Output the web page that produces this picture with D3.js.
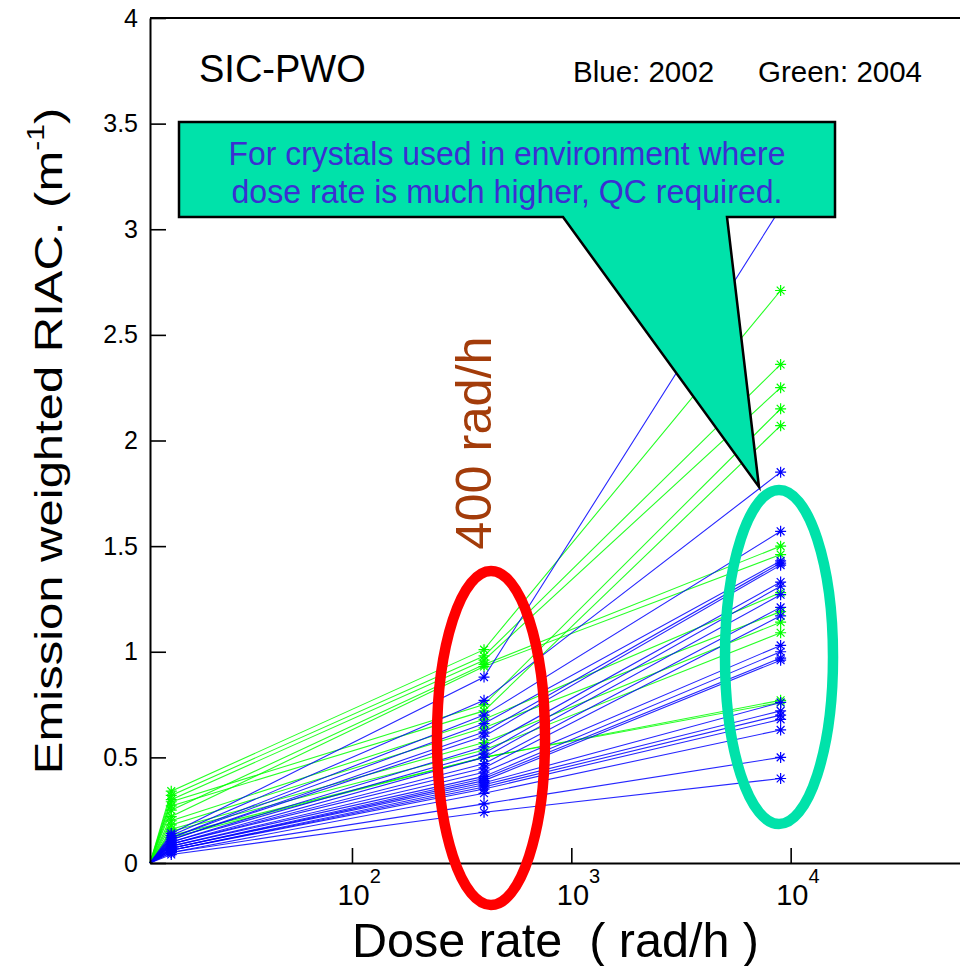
<!DOCTYPE html>
<html>
<head>
<meta charset="utf-8">
<script src="https://cdn.jsdelivr.net/npm/d3@7"></script>
<style>
  html, body { margin: 0; padding: 0; background: #fff; }
  svg { display: block; font-family: "Liberation Sans", Arial, Helvetica, sans-serif; }
</style>
</head>
<body>
<svg id="chart" width="960" height="966"></svg>
<script>
// Dose rates (rad/h) at which each crystal was measured; every curve starts at zero RIAC
const doseRates = [12, 15, 400, 9000];

// Emission weighted RIAC (1/m) per crystal, one row per crystal, matching doseRates
const riac2002 = [
  [0, 0.14, 0.88, 3.10],
  [0, 0.13, 0.77, 1.85],
  [0, 0.12, 0.70, 1.57],
  [0, 0.12, 0.66, 1.43],
  [0, 0.11, 0.62, 1.42],
  [0, 0.11, 0.60, 1.41],
  [0, 0.10, 0.55, 1.33],
  [0, 0.10, 0.52, 1.31],
  [0, 0.09, 0.50, 1.27],
  [0, 0.09, 0.47, 1.21],
  [0, 0.09, 0.45, 1.17],
  [0, 0.08, 0.43, 1.03],
  [0, 0.08, 0.41, 1.00],
  [0, 0.07, 0.40, 0.97],
  [0, 0.07, 0.39, 0.96],
  [0, 0.07, 0.38, 0.76],
  [0, 0.06, 0.37, 0.72],
  [0, 0.06, 0.36, 0.70],
  [0, 0.06, 0.35, 0.68],
  [0, 0.05, 0.33, 0.63],
  [0, 0.05, 0.28, 0.50],
  [0, 0.04, 0.24, 0.40]
];

const riac2004 = [
  [0, 0.34, 1.01, 2.71],
  [0, 0.32, 0.98, 2.36],
  [0, 0.30, 0.96, 2.25],
  [0, 0.29, 0.75, 2.15],
  [0, 0.27, 0.72, 2.07],
  [0, 0.25, 0.94, 1.50],
  [0, 0.22, 0.93, 1.46],
  [0, 0.20, 0.68, 1.28],
  [0, 0.18, 0.64, 1.19],
  [0, 0.16, 0.57, 1.14],
  [0, 0.15, 0.535, 1.09],
  [0, 0.13, 0.50, 0.77],
  [0, 0.12, 0.50, 0.76]
];

// Axis ticks
const yMajorTicks = [0, 0.5, 1, 1.5, 2, 2.5, 3, 3.5, 4];
const yMinorTicks = d3.range(0, 40.5, 1).map(v => v / 10);
const xMajorTicks = [100, 1000, 10000];
const xTickBase = ["10", "10", "10"];
const xTickExp = ["2", "3", "4"];
const xMinorTicks = [20, 30, 40, 50, 60, 70, 80, 90,
                     200, 300, 400, 500, 600, 700, 800, 900,
                     2000, 3000, 4000, 5000, 6000, 7000, 8000, 9000,
                     20000, 30000, 40000, 50000, 60000, 70000, 80000, 90000];

const svg = d3.select("#chart");

const margin = { left: 150, top: 18, bottom: 863, right: 1010 };
const x = d3.scaleLog().domain([12, 1e5]).range([margin.left, margin.right]);
const y = d3.scaleLinear().domain([0, 4]).range([margin.bottom, margin.top]);

// ---- frame (top border) ----
svg.append("line")
  .attr("x1", margin.left).attr("x2", margin.right)
  .attr("y1", margin.top).attr("y2", margin.top)
  .attr("stroke", "#000").attr("stroke-width", 2);

// ---- data: polylines with asterisk markers ----
const plot = svg.append("g");
const line = d3.line().x((d, i) => x(doseRates[i])).y(d => y(d));
const star = "M-5.5,0H5.5M0,-5.5V5.5M-3.9,-3.9L3.9,3.9M-3.9,3.9L3.9,-3.9";

function drawSeries(rows, color) {
  const g = plot.append("g");
  rows.forEach(row => {
    g.append("path")
      .attr("d", line(row))
      .attr("fill", "none")
      .attr("stroke", color)
      .attr("stroke-width", 1.1)
      .attr("stroke-opacity", 0.85);
    row.forEach((v, i) => {
      if (i === 0) return;
      g.append("path")
        .attr("d", star)
        .attr("transform", `translate(${x(doseRates[i])},${y(v)})`)
        .attr("fill", "none")
        .attr("stroke", color)
        .attr("stroke-width", 1.2);
    });
  });
}
drawSeries(riac2004, "#00ff00");
drawSeries(riac2002, "#0000ff");

// ---- axes ----
const yAxis = svg.append("g").attr("transform", `translate(${margin.left},0)`);
yAxis.call(d3.axisLeft(y).tickValues(yMinorTicks).tickSize(-8).tickSizeOuter(0).tickFormat(""));
yAxis.call(d3.axisLeft(y).tickValues(yMajorTicks).tickSize(-16).tickSizeOuter(0).tickPadding(12)
  .tickFormat(d => d3.format("~g")(d)));
yAxis.selectAll("path.domain").attr("stroke", "#000").attr("stroke-width", 2);
yAxis.selectAll(".tick line").attr("stroke", "#000").attr("stroke-width", 1.6);
yAxis.selectAll(".tick text")
  .attr("font-size", 25).attr("fill", "#000")
  .attr("font-family", "Liberation Sans, Arial, sans-serif");

const xAxis = svg.append("g").attr("transform", `translate(0,${margin.bottom})`);
xAxis.call(d3.axisBottom(x).tickValues(xMinorTicks).tickSize(-8).tickSizeOuter(0).tickFormat(""));
xAxis.call(d3.axisBottom(x).tickValues(xMajorTicks).tickSize(-15).tickSizeOuter(0).tickPadding(0)
  .tickFormat(""));
xAxis.selectAll("path.domain").attr("stroke", "#000").attr("stroke-width", 2);
xAxis.selectAll(".tick line").attr("stroke", "#000").attr("stroke-width", 1.6);
xAxis.selectAll(".tick").filter(d => xMajorTicks.includes(d)).each(function (d) {
  const i = xMajorTicks.indexOf(d);
  const t = d3.select(this).select("text")
    .attr("text-anchor", "start").attr("x", -15).attr("y", 42).attr("dy", null)
    .attr("fill", "#000").attr("font-family", "Liberation Sans, Arial, sans-serif");
  t.text(null);
  t.append("tspan").attr("font-size", 29).text(xTickBase[i]);
  t.append("tspan").attr("font-size", 20).attr("dy", -22).text(xTickExp[i]);
});

// ---- axis titles ----
svg.append("text")
  .attr("x", 352).attr("y", 957)
  .attr("font-size", 48.5)
  .style("white-space", "pre")
  .text("Dose rate  ( rad/h )");

const yTitle = svg.append("text")
  .attr("transform", "translate(62,441) rotate(-90) scale(1,0.8)")
  .attr("text-anchor", "middle")
  .attr("font-size", 49);
yTitle.append("tspan").text("Emission weighted RIAC. (m");
yTitle.append("tspan").attr("font-size", 30).attr("dy", -22).text("-1");
yTitle.append("tspan").attr("dy", 22).text(")");

// ---- labels inside the frame ----
svg.append("text").attr("x", 199).attr("y", 82).attr("font-size", 38).text("SIC-PWO");
svg.append("text").attr("x", 573).attr("y", 82).attr("font-size", 29.5).text("Blue: 2002");
svg.append("text").attr("x", 758).attr("y", 82).attr("font-size", 29.5).text("Green: 2004");

// ---- highlight ellipses ----
svg.append("ellipse")
  .attr("cx", 491).attr("cy", 738).attr("rx", 54).attr("ry", 167)
  .attr("fill", "none").attr("stroke", "#ff0000").attr("stroke-width", 10.5);
svg.append("ellipse")
  .attr("cx", 779).attr("cy", 657).attr("rx", 54).attr("ry", 167)
  .attr("fill", "none").attr("stroke", "#00e2aa").attr("stroke-width", 10.5);

svg.append("text")
  .attr("transform", "translate(491,443) rotate(-90)")
  .attr("text-anchor", "middle")
  .attr("font-size", 50.5)
  .attr("fill", "#a33c0a")
  .text("400 rad/h");

// ---- callout ----
svg.append("path")
  .attr("d", "M179,122H835V217H727L759,487L563,217H179Z")
  .attr("fill", "#00e2aa").attr("stroke", "#000").attr("stroke-width", 2.5)
  .attr("stroke-linejoin", "miter");
const callout = svg.append("text")
  .attr("text-anchor", "middle").attr("font-size", 33).attr("fill", "#3b2fd2");
callout.append("tspan").attr("x", 507).attr("y", 165)
  .attr("textLength", 557).attr("lengthAdjust", "spacingAndGlyphs")
  .text("For crystals used in environment where");
callout.append("tspan").attr("x", 507).attr("y", 203)
  .attr("textLength", 551).attr("lengthAdjust", "spacingAndGlyphs")
  .text("dose rate is much higher, QC required.");
</script>
</body>
</html>
